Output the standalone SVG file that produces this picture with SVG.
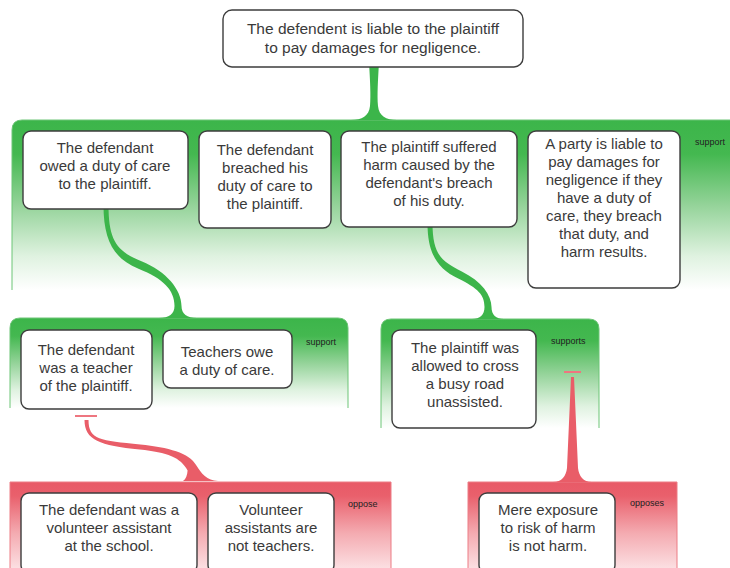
<svg xmlns="http://www.w3.org/2000/svg" width="730" height="568" viewBox="0 0 730 568">
  <defs>
    <linearGradient id="gGreen" x1="0" y1="0" x2="0" y2="1">
      <stop offset="0" stop-color="#3cb54a"/>
      <stop offset="0.2" stop-color="#44b850"/>
      <stop offset="0.5" stop-color="#94d399"/>
      <stop offset="0.8" stop-color="#dff2e0"/>
      <stop offset="1" stop-color="#ffffff"/>
    </linearGradient>
    <linearGradient id="gRed" x1="0" y1="0" x2="0" y2="1">
      <stop offset="0" stop-color="#e85a67"/>
      <stop offset="0.15" stop-color="#e9606c"/>
      <stop offset="0.55" stop-color="#f4abb1"/>
      <stop offset="1" stop-color="#fde9eb"/>
    </linearGradient>
    <style>
      .node rect { fill: #ffffff; stroke: #3d3d3d; stroke-width: 1.4; }
      .node text { font-family: "Liberation Sans", Arial, sans-serif; font-size: 15px; fill: #3a3a3a; text-anchor: middle; }
      .grp-green { fill: url(#gGreen); stroke: #6cc576; stroke-width: 1; }
      .grp-red { fill: url(#gRed); stroke: #ec7c85; stroke-width: 1; }
      .lbl { font-family: "Liberation Sans", Arial, sans-serif; font-size: 9px; fill: #222222; }
      .c-green { fill: #3cb54a; }
      .c-red { fill: #e95d68; }
      .bar { fill: #ee7680; }
    </style>
  </defs>

  <!-- argument groups -->
  <g id="groups">
    <path class="grp-green" d="M 12 290 V 130 Q 12 120 22 120 H 745 V 290"/>
    <text class="lbl" x="695" y="145">support</text>

    <path class="grp-green" d="M 10 408 V 328 Q 10 318 20 318 H 338 Q 348 318 348 328 V 408"/>
    <text class="lbl" x="306" y="345">support</text>

    <path class="grp-green" d="M 381 428 V 329 Q 381 319 391 319 H 589 Q 599 319 599 329 V 428"/>
    <text class="lbl" x="551" y="344">supports</text>

    <path class="grp-red" d="M 10 575 V 482 H 391 V 575"/>
    <text class="lbl" x="348" y="507">oppose</text>

    <path class="grp-red" d="M 468 575 V 482 H 677 V 575"/>
    <text class="lbl" x="630" y="506">opposes</text>
  </g>

  <!-- connectors -->
  <g id="connectors">
    <path class="c-green" d="M 369 62 L 379 62 C 378 80 377 95 378 106 C 379 116 386 120 397 120 L 351 120 C 362 120 369 116 370 106 C 371 95 370 80 369 62 Z"/>
    <path class="c-green" d="M 108.5 205 C 108.5 240 116.5 251.3 141.5 261.3 C 166.5 271.3 181.5 290 181.5 306 C 181.5 314 187 318 197 318 L 159 318 C 169 318 174.5 314 174.5 306 C 174.5 290 163.5 278.7 138.5 268.7 C 113.5 258.7 103.5 240 103.5 205 Z"/>
    <path class="c-green" d="M 432.5 223 C 432.5 255 441.8 261.4 461.8 271.4 C 481.8 281.4 491.5 295 491.5 307 C 491.5 315 496 319 504 319 L 472 319 C 480 319 484.5 315 484.5 307 C 484.5 295 478.2 288.6 458.2 278.6 C 438.2 268.6 427.5 255 427.5 223 Z"/>
    <rect class="bar" x="75" y="415" width="22" height="2"/>
    <path class="c-red" d="M 88.5 420 C 88.5 440 100.3 440.5 140.3 444.5 C 168.3 447.5 189.4 452.6 196.4 465.6 C 201 473 207 481 218 481 L 183 481 C 186 479 187.3 475 187.6 470.4 C 180.6 457.4 167.7 452.5 139.7 449.5 C 99.7 445.5 84.5 440 84.5 420 Z"/>
    <rect class="bar" x="564" y="371" width="17" height="2"/>
    <path class="c-red" d="M 571 377 L 574 377 L 578 468 C 579 476 583 482 592 482 L 553 482 C 562 482 566 476 567 468 Z"/>
  </g>

  <!-- claims -->
  <g id="claim-main" class="node">
    <rect x="223" y="10" width="300" height="57" rx="9"/>
    <text x="373" style="font-size:15.5px"><tspan x="373" y="34">The defendent is liable to the plaintiff</tspan><tspan x="373" y="53">to pay damages for negligence.</tspan></text>
  </g>

  <g id="premise-duty" class="node">
    <rect x="23" y="131" width="165" height="78" rx="8"/>
    <text><tspan x="105" y="153">The defendant</tspan><tspan x="105" y="171">owed a duty of care</tspan><tspan x="105" y="189">to the plaintiff.</tspan></text>
  </g>

  <g id="premise-breach" class="node">
    <rect x="199" y="131" width="132" height="97" rx="8"/>
    <text><tspan x="265" y="155">The defendant</tspan><tspan x="265" y="173">breached his</tspan><tspan x="265" y="191">duty of care to</tspan><tspan x="265" y="209">the plaintiff.</tspan></text>
  </g>

  <g id="premise-harm" class="node">
    <rect x="341" y="131" width="176" height="96" rx="8"/>
    <text><tspan x="429" y="152">The plaintiff suffered</tspan><tspan x="429" y="170">harm caused by the</tspan><tspan x="429" y="188">defendant's breach</tspan><tspan x="429" y="206">of his duty.</tspan></text>
  </g>

  <g id="premise-rule" class="node">
    <rect x="528" y="131" width="152" height="157" rx="8"/>
    <text><tspan x="604" y="149">A party is liable to</tspan><tspan x="604" y="167">pay damages for</tspan><tspan x="604" y="185">negligence if they</tspan><tspan x="604" y="203">have a duty of</tspan><tspan x="604" y="221">care, they breach</tspan><tspan x="604" y="239">that duty, and</tspan><tspan x="604" y="257">harm results.</tspan></text>
  </g>

  <g id="premise-teacher" class="node">
    <rect x="21" y="330" width="131" height="79" rx="8"/>
    <text><tspan x="86" y="355">The defendant</tspan><tspan x="86" y="373">was a teacher</tspan><tspan x="86" y="391">of the plaintiff.</tspan></text>
  </g>

  <g id="premise-teachers-owe" class="node">
    <rect x="163" y="330" width="129" height="58" rx="8"/>
    <text><tspan x="227" y="357">Teachers owe</tspan><tspan x="227" y="375">a duty of care.</tspan></text>
  </g>

  <g id="premise-road" class="node">
    <rect x="392" y="330" width="144" height="98" rx="8"/>
    <text><tspan x="465" y="353">The plaintiff was</tspan><tspan x="465" y="371">allowed to cross</tspan><tspan x="465" y="389">a busy road</tspan><tspan x="465" y="407">unassisted.</tspan></text>
  </g>

  <g id="objection-volunteer" class="node">
    <rect x="21" y="493" width="176" height="80" rx="8"/>
    <text><tspan x="109" y="515">The defendant was a</tspan><tspan x="109" y="533">volunteer assistant</tspan><tspan x="109" y="551">at the school.</tspan></text>
  </g>

  <g id="objection-not-teachers" class="node">
    <rect x="208" y="493" width="126" height="80" rx="8"/>
    <text><tspan x="271" y="515">Volunteer</tspan><tspan x="271" y="533">assistants are</tspan><tspan x="271" y="551">not teachers.</tspan></text>
  </g>

  <g id="objection-exposure" class="node">
    <rect x="479" y="493" width="136" height="80" rx="8"/>
    <text><tspan x="548" y="515">Mere exposure</tspan><tspan x="548" y="533">to risk of harm</tspan><tspan x="548" y="551">is not harm.</tspan></text>
  </g>
</svg>
